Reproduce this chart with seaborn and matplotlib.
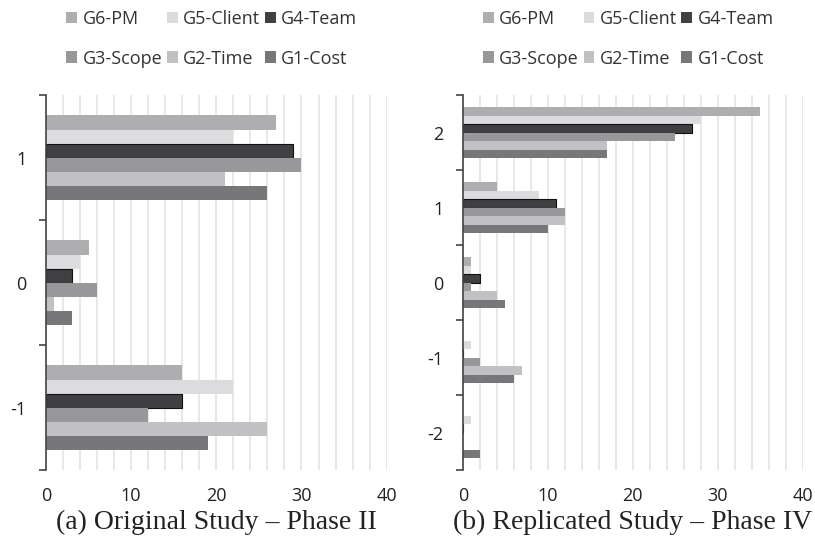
import pandas as pd
import numpy as np
import matplotlib
matplotlib.use("Agg")
import matplotlib.pyplot as plt
import seaborn as sns
from matplotlib.patches import Patch
from matplotlib.ticker import MultipleLocator, FixedLocator

# series, listed top to bottom inside each group
groups = ["G6-PM", "G5-Client", "G4-Team", "G3-Scope", "G2-Time", "G1-Cost"]
colors = ["#aeaeb0", "#dcdcde", "#404043", "#98989b", "#c1c1c3", "#77777a"]

# (a) Original Study - Phase II
levels_a = ["1", "0", "-1"]
counts_a = {
    "1":  [27, 22, 29, 30, 21, 26],
    "0":  [5, 4, 3, 6, 1, 3],
    "-1": [16, 22, 16, 12, 26, 19],
}

# (b) Replicated Study - Phase IV
levels_b = ["2", "1", "0", "-1", "-2"]
counts_b = {
    "2":  [35, 28, 27, 25, 17, 17],
    "1":  [4, 9, 11, 12, 12, 10],
    "0":  [1, 1, 2, 1, 4, 5],
    "-1": [0, 1, 0, 2, 7, 6],
    "-2": [0, 1, 0, 0, 0, 2],
}

captions = ["(a) Original Study \u2013 Phase II", "(b) Replicated Study \u2013 Phase IV"]


def to_long(levels, counts):
    rows = []
    for lv in levels:
        for g, v in zip(groups, counts[lv]):
            rows.append({"level": lv, "group": g, "count": v})
    return pd.DataFrame(rows)


sns.set_style("white")
plt.rcParams["font.family"] = ["Open Sans", "DejaVu Sans"]

fig = plt.figure(figsize=(8.15, 5.45), dpi=100)
ax_a = fig.add_axes([0.0564, 0.137, 0.418, 0.688])
ax_b = fig.add_axes([0.568, 0.137, 0.417, 0.688])

panels = [(ax_a, levels_a, counts_a), (ax_b, levels_b, counts_b)]

for i, (ax, levels, counts) in enumerate(panels):
    df = to_long(levels, counts)
    sns.barplot(data=df, y="level", x="count", hue="group", order=levels,
                hue_order=groups, palette=colors, width=0.68, orient="h",
                ax=ax, legend=False, saturation=1)
    for bar, c in zip(ax.patches, np.repeat(colors, len(levels))):
        if c == "#404043":
            bar.set_edgecolor("#111111")
            bar.set_linewidth(0.8)
        else:
            bar.set_linewidth(0)

    ax.set_xlim(0, 40)
    ax.set_ylim(len(levels) - 0.5, -0.5)
    ax.xaxis.set_major_locator(MultipleLocator(10))
    ax.xaxis.set_minor_locator(MultipleLocator(2))
    ax.grid(axis="x", which="both", color="#e2e2e2", linewidth=1.1)
    ax.set_axisbelow(True)

    # category ticks sit on the group boundaries, labels in the middle
    ax.yaxis.set_minor_locator(FixedLocator(np.arange(-0.5, len(levels), 1)))
    ax.tick_params(axis="y", which="major", length=0, pad=14, labelsize=13,
                   labelcolor="#222222")
    ax.tick_params(axis="y", which="minor", length=5, width=1.2,
                   color="#444444", left=True)
    ax.tick_params(axis="x", which="both", length=0, pad=12, labelsize=13,
                   labelcolor="#222222")

    for s in ["top", "right", "bottom"]:
        ax.spines[s].set_visible(False)
    ax.spines["left"].set_color("#444444")
    ax.spines["left"].set_linewidth(1.2)
    ax.set_xlabel("")
    ax.set_ylabel("")

    # legend: row 1 G6..G4, row 2 G3..G1 (matplotlib fills columns first)
    order = [0, 3, 1, 4, 2, 5]
    handles = [Patch(facecolor=colors[k], edgecolor="none") for k in order]
    labels = [groups[k] for k in order]
    ax.legend(handles, labels, ncol=3, loc="upper center",
              bbox_to_anchor=(0.487, 1.252), frameon=False, fontsize=13,
              borderpad=0, handlelength=0.6, handleheight=0.6,
              handletextpad=0.3, columnspacing=0.25, labelspacing=1.2,
              labelcolor="#333333")

    ax.text(0.5, -0.139, captions[i], transform=ax.transAxes, ha="center",
            va="center", fontsize=20, family="Liberation Serif", color="#222222")

fig.savefig("out.png", dpi=100)
